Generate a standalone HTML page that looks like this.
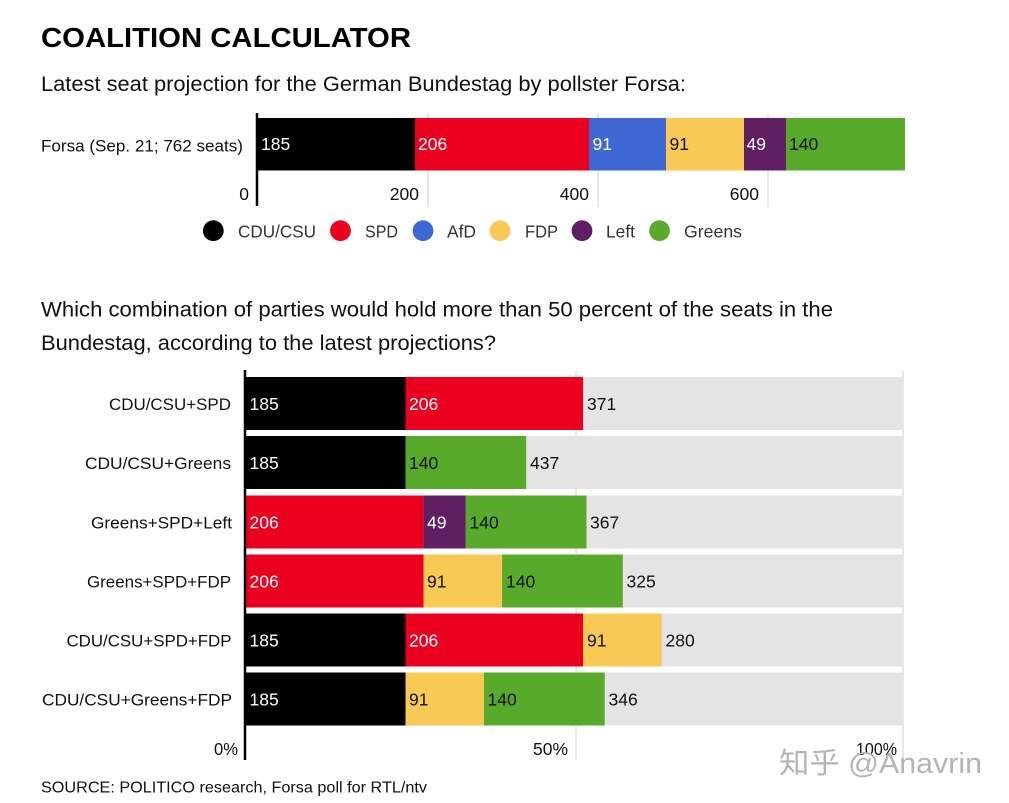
<!DOCTYPE html>
<html><head><meta charset="utf-8"><style>
html,body{margin:0;padding:0;background:#fff;}
svg{display:block;}
text{font-family:"Liberation Sans","Noto Sans CJK SC",sans-serif;}
</style></head><body>
<svg width="1009" height="803" viewBox="0 0 1009 803" xmlns="http://www.w3.org/2000/svg">
<rect width="1009" height="803" fill="#fff"/>
<text x="41" y="47" font-size="28" font-weight="bold" fill="#000" textLength="370" lengthAdjust="spacingAndGlyphs">COALITION CALCULATOR</text>
<text x="41" y="91" font-size="21" fill="#111" textLength="645" lengthAdjust="spacingAndGlyphs">Latest seat projection for the German Bundestag by pollster Forsa:</text>

<!-- top chart -->
<g stroke="#cfcfcf" stroke-width="1">
<line x1="428" y1="113" x2="428" y2="207"/>
<line x1="598" y1="113" x2="598" y2="207"/>
<line x1="768" y1="113" x2="768" y2="207"/>
</g>
<rect x="258" y="118" width="157" height="52.5" fill="#000"/>
<rect x="415" y="118" width="174" height="52.5" fill="#ec0020"/>
<rect x="589" y="118" width="77" height="52.5" fill="#3e67d3"/>
<rect x="666" y="118" width="78" height="52.5" fill="#f8ca55"/>
<rect x="744" y="118" width="42" height="52.5" fill="#5f1f60"/>
<rect x="786" y="118" width="119" height="52.5" fill="#58aa2a"/>
<line x1="257" y1="113" x2="257" y2="206" stroke="#000" stroke-width="2.5"/>
<text x="41" y="151.5" font-size="17" fill="#111" textLength="202" lengthAdjust="spacingAndGlyphs">Forsa (Sep. 21; 762 seats)</text>
<g font-size="17.5">
<text x="261" y="150" fill="#fff">185</text>
<text x="418" y="150" fill="#fff">206</text>
<text x="592.5" y="150" fill="#fff">91</text>
<text x="669.5" y="150" fill="#111">91</text>
<text x="746.5" y="150" fill="#fff">49</text>
<text x="789" y="150" fill="#111">140</text>
</g>
<g font-size="17.5" fill="#111" text-anchor="end">
<text x="249" y="200">0</text>
<text x="419" y="200">200</text>
<text x="589" y="200">400</text>
<text x="759" y="200">600</text>
</g>

<!-- legend -->
<circle cx="213.3" cy="230.7" r="10.4" fill="#000"/>
<circle cx="340.5" cy="230.7" r="10.4" fill="#ec0020"/>
<circle cx="423" cy="230.7" r="10.4" fill="#3e67d3"/>
<circle cx="500" cy="230.7" r="10.4" fill="#f8ca55"/>
<circle cx="582" cy="230.7" r="10.4" fill="#5f1f60"/>
<circle cx="659.5" cy="230.7" r="10.4" fill="#58aa2a"/>
<g font-size="17.5" fill="#333">
<text x="238" y="237.3" textLength="78" lengthAdjust="spacingAndGlyphs">CDU/CSU</text>
<text x="365" y="237.3" textLength="33" lengthAdjust="spacingAndGlyphs">SPD</text>
<text x="447" y="237.3" textLength="29" lengthAdjust="spacingAndGlyphs">AfD</text>
<text x="525" y="237.3" textLength="33" lengthAdjust="spacingAndGlyphs">FDP</text>
<text x="606" y="237.3" textLength="29" lengthAdjust="spacingAndGlyphs">Left</text>
<text x="684" y="237.3" textLength="58" lengthAdjust="spacingAndGlyphs">Greens</text>
</g>

<text x="41" y="316.5" font-size="21" fill="#111" textLength="792" lengthAdjust="spacingAndGlyphs">Which combination of parties would hold more than 50 percent of the seats in the</text>
<text x="41" y="350" font-size="21" fill="#111" textLength="455" lengthAdjust="spacingAndGlyphs">Bundestag, according to the latest projections?</text>

<!-- bottom chart -->
<g stroke="#cfcfcf" stroke-width="1">
<line x1="576" y1="371" x2="576" y2="760"/>
<line x1="903" y1="371" x2="903" y2="758"/>
</g>
<g fill="#e4e4e4">
<rect x="246" y="377" width="657" height="53"/>
<rect x="246" y="436" width="657" height="53"/>
<rect x="246" y="495.5" width="657" height="53"/>
<rect x="246" y="554.5" width="657" height="53"/>
<rect x="246" y="613.5" width="657" height="53"/>
<rect x="246" y="672.5" width="657" height="53"/>
</g>
<!-- row1 -->
<rect x="246" y="377" width="159.5" height="53" fill="#000"/>
<rect x="405.5" y="377" width="177.6" height="53" fill="#ec0020"/>
<!-- row2 -->
<rect x="246" y="436" width="159.5" height="53" fill="#000"/>
<rect x="405.5" y="436" width="120.7" height="53" fill="#58aa2a"/>
<!-- row3 -->
<rect x="246" y="495.5" width="177.6" height="53" fill="#ec0020"/>
<rect x="423.6" y="495.5" width="42.2" height="53" fill="#5f1f60"/>
<rect x="465.8" y="495.5" width="120.7" height="53" fill="#58aa2a"/>
<!-- row4 -->
<rect x="246" y="554.5" width="177.6" height="53" fill="#ec0020"/>
<rect x="423.6" y="554.5" width="78.5" height="53" fill="#f8ca55"/>
<rect x="502.1" y="554.5" width="120.7" height="53" fill="#58aa2a"/>
<!-- row5 -->
<rect x="246" y="613.5" width="159.5" height="53" fill="#000"/>
<rect x="405.5" y="613.5" width="177.6" height="53" fill="#ec0020"/>
<rect x="583.1" y="613.5" width="78.5" height="53" fill="#f8ca55"/>
<!-- row6 -->
<rect x="246" y="672.5" width="159.5" height="53" fill="#000"/>
<rect x="405.5" y="672.5" width="78.5" height="53" fill="#f8ca55"/>
<rect x="484" y="672.5" width="120.7" height="53" fill="#58aa2a"/>

<line x1="245" y1="370" x2="245" y2="760" stroke="#000" stroke-width="2.5"/>

<g font-size="17.5">
<text x="249.5" y="410" fill="#fff">185</text>
<text x="409" y="410" fill="#fff">206</text>
<text x="587" y="410" fill="#111">371</text>

<text x="249.5" y="469" fill="#fff">185</text>
<text x="409" y="469" fill="#111">140</text>
<text x="530" y="469" fill="#111">437</text>

<text x="249.5" y="528.5" fill="#fff">206</text>
<text x="427" y="528.5" fill="#fff">49</text>
<text x="469.5" y="528.5" fill="#111">140</text>
<text x="590" y="528.5" fill="#111">367</text>

<text x="249.5" y="587.5" fill="#fff">206</text>
<text x="427" y="587.5" fill="#111">91</text>
<text x="506" y="587.5" fill="#111">140</text>
<text x="626.5" y="587.5" fill="#111">325</text>

<text x="249.5" y="646.5" fill="#fff">185</text>
<text x="409" y="646.5" fill="#fff">206</text>
<text x="587" y="646.5" fill="#111">91</text>
<text x="665.5" y="646.5" fill="#111">280</text>

<text x="249.5" y="705.5" fill="#fff">185</text>
<text x="409" y="705.5" fill="#111">91</text>
<text x="487.5" y="705.5" fill="#111">140</text>
<text x="608.5" y="705.5" fill="#111">346</text>
</g>

<g font-size="17" fill="#111">
<text x="109" y="410" textLength="122" lengthAdjust="spacingAndGlyphs">CDU/CSU+SPD</text>
<text x="85" y="469" textLength="146" lengthAdjust="spacingAndGlyphs">CDU/CSU+Greens</text>
<text x="91" y="528.5" textLength="141" lengthAdjust="spacingAndGlyphs">Greens+SPD+Left</text>
<text x="87" y="587.5" textLength="144" lengthAdjust="spacingAndGlyphs">Greens+SPD+FDP</text>
<text x="66.5" y="646.5" textLength="165" lengthAdjust="spacingAndGlyphs">CDU/CSU+SPD+FDP</text>
<text x="42" y="705.5" textLength="190" lengthAdjust="spacingAndGlyphs">CDU/CSU+Greens+FDP</text>
</g>

<g font-size="17.5" fill="#111">
<text x="214" y="755" textLength="24" lengthAdjust="spacingAndGlyphs">0%</text>
<text x="533" y="755" textLength="35" lengthAdjust="spacingAndGlyphs">50%</text>
<text x="856" y="755" textLength="41" lengthAdjust="spacingAndGlyphs">100%</text>
</g>

<!-- watermark -->
<text x="781" y="775" font-size="29" fill="#fff" textLength="203" lengthAdjust="spacingAndGlyphs">知乎 @Anavrin</text>
<text x="779" y="773" font-size="29" fill="#b4b4b4" textLength="203" lengthAdjust="spacingAndGlyphs">知乎 @Anavrin</text>

<text x="41" y="792.5" font-size="16" fill="#111" textLength="386" lengthAdjust="spacingAndGlyphs">SOURCE: POLITICO research, Forsa poll for RTL/ntv</text>
</svg>
</body></html>
